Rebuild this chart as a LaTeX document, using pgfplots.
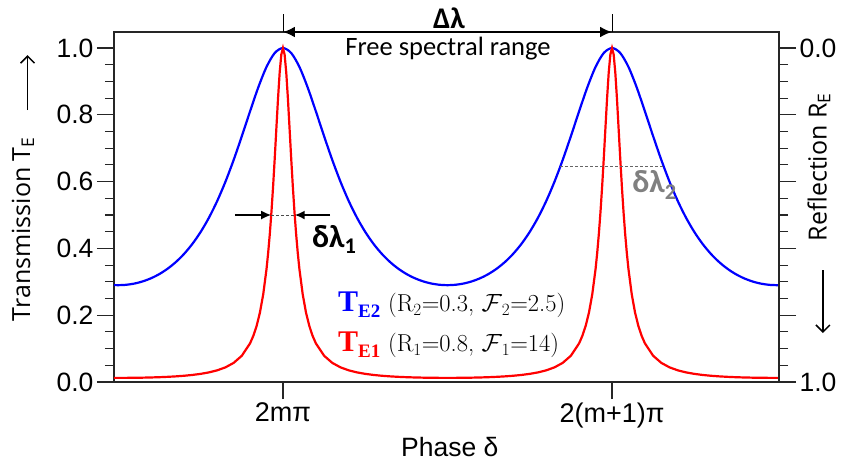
\documentclass[border=0pt]{standalone}
\usepackage{fontspec}
\usepackage{pgfplots}
\pgfplotsset{compat=1.18}
\usetikzlibrary{arrows.meta}
\newfontfamily\arial{Liberation Sans}
\newfontfamily\calibri{Carlito}
\newfontfamily\opensans{Open Sans}
\newfontfamily\timesf{Liberation Serif}
\begin{document}
\begin{tikzpicture}
\useasboundingbox (-114pt,-85pt) rectangle (727pt,382pt);
\begin{axis}[
  scale only axis, width=665pt, height=350pt,
  xmin=-1.027, xmax=3.015, ymin=0, ymax=1.048,
  axis line style={black!85, line width=1.2pt},
  every tick/.style={black!85, line width=1.1pt},
  tick align=outside, tick pos=left,
  major tick length=17pt, minor tick length=9pt,
  xtick={0,2}, xticklabels={2mπ, 2(m+1)π},
  ytick={0,0.2,0.4,0.6,0.8,1}, minor y tick num=3,
  /pgf/number format/assume math mode=true,
  yticklabel style={font=\arial\fontsize{26.5}{30}\selectfont, /pgf/number format/fixed, /pgf/number format/fixed zerofill, /pgf/number format/precision=1},
  xticklabel style={font=\arial\fontsize{27}{30}\selectfont},
  clip=false,
]
\addplot[blue, line width=2.2pt, smooth] coordinates {
(-1.027,0.29031) (-1.0,0.28994) (-0.95,0.29122) (-0.9,0.29507) (-0.85,0.30161) (-0.8,0.31103) (-0.75,0.32359) (-0.7,0.33965) (-0.65,0.35966) (-0.6,0.38419) (-0.55,0.41390) (-0.5,0.44954) (-0.45,0.49190) (-0.4,0.54168) (-0.35,0.59931) (-0.3,0.66456) (-0.25,0.73603) (-0.2,0.81047) (-0.15,0.88225) (-0.1,0.94346) (-0.05,0.98515) (0,1) (0.05,0.98515) (0.1,0.94346) (0.15,0.88225) (0.2,0.81047) (0.25,0.73603) (0.3,0.66456) (0.35,0.59931) (0.4,0.54168) (0.45,0.49190) (0.5,0.44954) (0.55,0.41390) (0.6,0.38419) (0.65,0.35966) (0.7,0.33965) (0.75,0.32359) (0.8,0.31103) (0.85,0.30161) (0.9,0.29507) (0.95,0.29122) (1.0,0.28994) (1.05,0.29122) (1.1,0.29507) (1.15,0.30161) (1.2,0.31103) (1.25,0.32359) (1.3,0.33965) (1.35,0.35966) (1.4,0.38419) (1.45,0.41390) (1.5,0.44954) (1.55,0.49190) (1.6,0.54168) (1.65,0.59931) (1.7,0.66456) (1.75,0.73603) (1.8,0.81047) (1.85,0.88225) (1.9,0.94346) (1.95,0.98515) (2,1) (2.05,0.98515) (2.1,0.94346) (2.15,0.88225) (2.2,0.81047) (2.25,0.73603) (2.3,0.66456) (2.35,0.59931) (2.4,0.54168) (2.45,0.49190) (2.5,0.44954) (2.55,0.41390) (2.6,0.38419) (2.65,0.35966) (2.7,0.33965) (2.75,0.32359) (2.8,0.31103) (2.85,0.30161) (2.9,0.29507) (2.95,0.29122) (3.0,0.28994) (3.015,0.29006)
};
\addplot[red, line width=2.2pt] coordinates {
(-1.027,0.012368) (-1.0,0.012346) (-0.95,0.012421) (-0.9,0.012651) (-0.85,0.013048) (-0.8,0.013631) (-0.75,0.014433) (-0.7,0.015501) (-0.65,0.016903) (-0.6,0.018740) (-0.55,0.021161) (-0.5,0.024390) (-0.45,0.028783) (-0.4,0.034917) (-0.35,0.043782) (-0.3,0.057180) (-0.25,0.078643) (-0.2,0.11575) (-0.18,0.13837) (-0.16,0.16813) (-0.14,0.20804) (-0.12,0.26254) (-0.1,0.33809) (-0.09,0.38636) (-0.08,0.44314) (-0.07,0.50933) (-0.06,0.58530) (-0.05,0.67003) (-0.04,0.76022) (-0.03,0.84924) (-0.02,0.92684) (-0.01,0.98064) (0,1)
(0.01,0.98064) (0.02,0.92684) (0.03,0.84924) (0.04,0.76022) (0.05,0.67003) (0.06,0.58530) (0.07,0.50933) (0.08,0.44314) (0.09,0.38636) (0.1,0.33809) (0.12,0.26254) (0.14,0.20804) (0.16,0.16813) (0.18,0.13837) (0.2,0.11575) (0.25,0.078643) (0.3,0.057180) (0.35,0.043782) (0.4,0.034917) (0.45,0.028783) (0.5,0.024390) (0.55,0.021161) (0.6,0.018740) (0.65,0.016903) (0.7,0.015501) (0.75,0.014433) (0.8,0.013631) (0.85,0.013048) (0.9,0.012651) (0.95,0.012421) (1.0,0.012346)
(1.05,0.012421) (1.1,0.012651) (1.15,0.013048) (1.2,0.013631) (1.25,0.014433) (1.3,0.015501) (1.35,0.016903) (1.4,0.018740) (1.45,0.021161) (1.5,0.024390) (1.55,0.028783) (1.6,0.034917) (1.65,0.043782) (1.7,0.057180) (1.75,0.078643) (1.8,0.11575) (1.82,0.13837) (1.84,0.16813) (1.86,0.20804) (1.88,0.26254) (1.9,0.33809) (1.91,0.38636) (1.92,0.44314) (1.93,0.50933) (1.94,0.58530) (1.95,0.67003) (1.96,0.76022) (1.97,0.84924) (1.98,0.92684) (1.99,0.98064) (2,1)
(2.01,0.98064) (2.02,0.92684) (2.03,0.84924) (2.04,0.76022) (2.05,0.67003) (2.06,0.58530) (2.07,0.50933) (2.08,0.44314) (2.09,0.38636) (2.1,0.33809) (2.12,0.26254) (2.14,0.20804) (2.16,0.16813) (2.18,0.13837) (2.2,0.11575) (2.25,0.078643) (2.3,0.057180) (2.35,0.043782) (2.4,0.034917) (2.45,0.028783) (2.5,0.024390) (2.55,0.021161) (2.6,0.018740) (2.65,0.016903) (2.7,0.015501) (2.75,0.014433) (2.8,0.013631) (2.85,0.013048) (2.9,0.012651) (2.95,0.012421) (3.0,0.012346) (3.015,0.012353)
};
% free spectral range
\draw[black, line width=0.8pt] (axis cs:0,1.048) -- (axis cs:0,1.102);
\draw[black, line width=0.8pt] (axis cs:2,1.048) -- (axis cs:2,1.102);
\draw[{Latex[length=12pt,width=11pt]}-{Latex[length=12pt,width=11pt]}, line width=2.2pt] (axis cs:0,1.048) -- (axis cs:2,1.048);
\node[font=\calibri\bfseries\fontsize{30}{32}\selectfont] at (axis cs:1.009,1.09) {Δλ};
\node[font=\calibri\fontsize{26.5}{30}\selectfont] at (axis cs:1.003,0.998) {Free spectral range};
% delta lambda 1
\draw[densely dashed, black!70, line width=0.8pt] (axis cs:-0.0713,0.5) -- (axis cs:0.0713,0.5);
\draw[-{Latex[length=10pt,width=9pt]}, line width=1.8pt] (axis cs:-0.292,0.5) -- (axis cs:-0.0713,0.5);
\draw[-{Latex[length=10pt,width=9pt]}, line width=1.8pt] (axis cs:0.286,0.5) -- (axis cs:0.0713,0.5);
\node[anchor=base west, inner sep=0pt, font=\calibri\bfseries\fontsize{32}{34}\selectfont] at (axis cs:0.176,0.404) {δλ\textsubscript{1}};
% delta lambda 2
\draw[densely dashed, black!60, line width=0.8pt] (axis cs:1.6855,0.645) -- (axis cs:2.3145,0.645);
\node[anchor=base west, inner sep=0pt, text=black!50, font=\calibri\bfseries\fontsize{32}{34}\selectfont] at (axis cs:2.122,0.566) {δλ\textsubscript{2}};
% legend
\node[anchor=base west, inner sep=0pt, text=blue, font=\timesf\bfseries\fontsize{30}{32}\selectfont] at (axis cs:0.334,0.21) {T\raisebox{-6pt}{\fontsize{19}{20}\selectfont E2}};
\node[anchor=base west, inner sep=0pt, font=\fontsize{24.5}{26}\selectfont] at (axis cs:0.638,0.21) {(R\textsubscript{2}=0.3, $\mathcal{F}$\textsubscript{2}=2.5)};
\node[anchor=base west, inner sep=0pt, text=red, font=\timesf\bfseries\fontsize{30}{32}\selectfont] at (axis cs:0.334,0.09) {T\raisebox{-6pt}{\fontsize{19}{20}\selectfont E1}};
\node[anchor=base west, inner sep=0pt, font=\fontsize{24.5}{26}\selectfont] at (axis cs:0.638,0.09) {(R\textsubscript{1}=0.8, $\mathcal{F}$\textsubscript{1}=14)};
% axis labels
\node[rotate=90, font=\opensans\fontsize{25}{28}\selectfont] at (axis description cs:-0.137,0.437) {Transmission T\textsubscript{E}};
\draw[line width=1.5pt, -{Straight Barb[length=7pt,width=14pt]}] (axis description cs:-0.130,0.777) -- (axis description cs:-0.130,0.934);
\node[rotate=90, font=\opensans\fontsize{25}{28}\selectfont] at (axis description cs:1.060,0.614) {Reflection R\textsubscript{E}};
\draw[line width=1.5pt, -{Straight Barb[length=7pt,width=14pt]}] (axis description cs:1.066,0.32) -- (axis description cs:1.066,0.14);
\node[font=\arial\fontsize{26.5}{30}\selectfont] at (axis description cs:0.505,-0.186) {Phase δ};
\end{axis}
\begin{axis}[
  scale only axis, width=665pt, height=350pt,
  xmin=-1.027, xmax=3.015, ymin=0, ymax=1.048,
  axis x line=none, axis y line*=right,
  axis line style={black!85, line width=1.2pt},
  every tick/.style={black!85, line width=1.1pt},
  tick align=outside,
  major tick length=17pt, minor tick length=9pt,
  ytick={0,0.2,0.4,0.6,0.8,1}, yticklabels={1.0,,,,,0.0}, minor y tick num=3,
  yticklabel style={font=\arial\fontsize{26.5}{30}\selectfont},
]
\end{axis}
\end{tikzpicture}
\end{document}
